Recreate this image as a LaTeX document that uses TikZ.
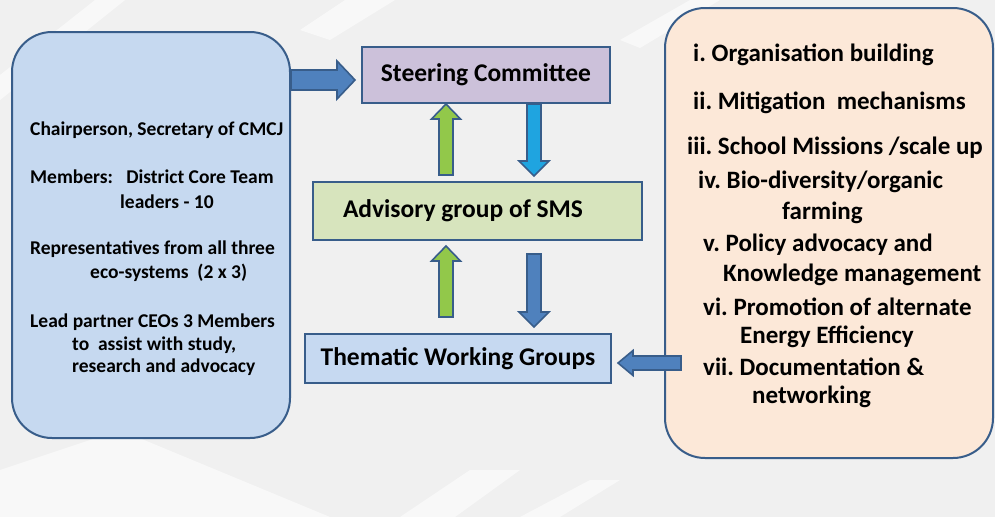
\documentclass[tikz,border=0pt]{standalone}
\usepackage{fontspec}
\setmainfont{Carlito}
\usetikzlibrary{positioning,calc}

\definecolor{bgcol}{HTML}{F0F0F0}
\definecolor{edgecol}{HTML}{385D8A}
\definecolor{leftcol}{HTML}{C6D9F0}
\definecolor{rightcol}{HTML}{FCE8D8}
\definecolor{steercol}{HTML}{CCC1DA}
\definecolor{advcol}{HTML}{D7E4BD}
\definecolor{themcol}{HTML}{C6D9F1}
\definecolor{bluearr}{HTML}{4F81BD}
\definecolor{greenarr}{HTML}{92C84A}
\definecolor{cyanarr}{HTML}{1FA4E0}

% block arrow: [style]{from}{to}{shaft half}{head half}{head length}
\newcommand{\blockarrow}[6][]{%
  \coordinate (ba-h) at ($(#3)!#6!(#2)$);
  \draw[#1] ($(#2)!#4!90:(#3)$) -- ($(ba-h)!#4!90:(#3)$) -- ($(ba-h)!#5!90:(#3)$)
    -- (#3) -- ($(ba-h)!#5!-90:(#3)$) -- ($(ba-h)!#4!-90:(#3)$)
    -- ($(#2)!#4!-90:(#3)$) -- cycle;}

\tikzset{
  sidebox/.style={draw=edgecol, line width=2pt, rounded corners=40pt, inner sep=0pt},
  levelbox/.style={draw=edgecol, line width=2pt, inner sep=0pt,
    font=\fontsize{25.5}{28}\selectfont\bfseries\frenchspacing},
  lefttext/.style={anchor=west, inner sep=0pt, font=\fontsize{19.5}{22}\selectfont\bfseries\frenchspacing},
  righttext/.style={anchor=west, inner sep=0pt, font=\fontsize{25}{28}\selectfont\bfseries\frenchspacing},
  arrowfill/.style={draw=edgecol, line width=1.6pt, line join=miter, fill=#1},
  streak/.style={fill=white, opacity=0.55, draw=none},
}

\begin{document}
\begin{tikzpicture}[x=1pt,y=-1pt]
% background
\fill[bgcol] (0,0) rectangle (995,517);
\useasboundingbox (0,0) rectangle (995,517);
\fill[streak] (0,75) -- (95,0) -- (125,0) -- (0,100) -- cycle;
\fill[streak] (300,30) -- (345,0) -- (395,0) -- (330,40) -- cycle;
\fill[streak] (620,40) -- (690,0) -- (720,0) -- (640,48) -- cycle;
\fill[streak] (0,470) -- (120,430) -- (330,517) -- (0,517) -- cycle;
\fill[streak] (400,517) -- (470,470) -- (520,470) -- (455,517) -- cycle;
\fill[streak] (520,517) -- (590,480) -- (620,480) -- (560,517) -- cycle;

% side boxes
\node[sidebox, fill=leftcol, minimum width=278pt, minimum height=406pt] (members) at (151,235) {};
\node[sidebox, fill=rightcol, minimum width=328pt, minimum height=450pt] (topics) at (829,233) {};

% levels
\node[levelbox, fill=steercol, minimum width=248pt, minimum height=56pt] (steer) at (486,75) {Steering Committee};
\node[levelbox, fill=advcol, minimum height=58pt, text width=269pt, inner xsep=30pt, align=flush left] (adv) at (477.5,211) {Advisory group of SMS};
\node[levelbox, fill=themcol, minimum width=306pt, minimum height=49pt] (them) at (458,358.5) {Thematic Working Groups};

% left text
\foreach \x/\y/\t [count=\i] in {
  30/130/{Chairperson, Secretary of CMCJ},
  30/177/{Members:\ \ \ District Core Team},
  120/202/{leaders - 10},
  30/249/{Representatives from all three},
  90/273/{eco-systems\ \ (2 x 3)},
  30/322/{Lead partner CEOs 3 Members},
  72/345/{to\ \ assist with study,},
  72/367/{research and advocacy}}
  \node[lefttext] (mem\i) at (\x,\y) {\t};

% right text
\foreach \x/\y/\t [count=\i] in {
  693/55/{i. Organisation building},
  693/103/{ii. Mitigation\ \ mechanisms},
  687/148/{iii. School Missions /scale up},
  698/182/{iv. Bio-diversity/organic},
  782/213/{farming},
  703/245/{v. Policy advocacy and},
  723/275/{Knowledge management},
  703/307/{vi. Promotion of alternate},
  740/337/{Energy Efficiency},
  703/367/{vii. Documentation \&},
  752/397/{networking}}
  \node[righttext] (top\i) at (\x,\y) {\t};

% connector points
\coordinate (up-x) at (446,0);
\coordinate (down-x) at (534,0);
\coordinate (sc-in) at ([xshift=-6pt,yshift=-5pt]steer.west);
\coordinate (mb-out) at (members.east |- sc-in);
\coordinate (th-in) at ([xshift=6pt,yshift=-4.5pt]them.east);
\coordinate (tp-edge) at ([xshift=17pt]topics.west);
\coordinate (tp-out) at (tp-edge |- th-in);

% arrows
\blockarrow[arrowfill=bluearr]{mb-out}{sc-in}{10pt}{19pt}{18pt}
\blockarrow[arrowfill=greenarr]{$(up-x |- adv.north)+(0,-6)$}{up-x |- steer.south}{7pt}{14.5pt}{15pt}
\blockarrow[arrowfill=cyanarr]{down-x |- steer.south}{$(down-x |- adv.north)+(0,-5)$}{7pt}{15pt}{15pt}
\blockarrow[arrowfill=greenarr]{$(up-x |- them.north)+(0,-16)$}{$(up-x |- adv.south)+(0,5)$}{7pt}{14.5pt}{15pt}
\blockarrow[arrowfill=bluearr]{$(down-x |- adv.south)+(0,13)$}{$(down-x |- them.north)+(0,-6)$}{7pt}{15pt}{15pt}
\blockarrow[arrowfill=bluearr]{tp-out}{th-in}{7pt}{12.5pt}{15pt}
\end{tikzpicture}
\end{document}
